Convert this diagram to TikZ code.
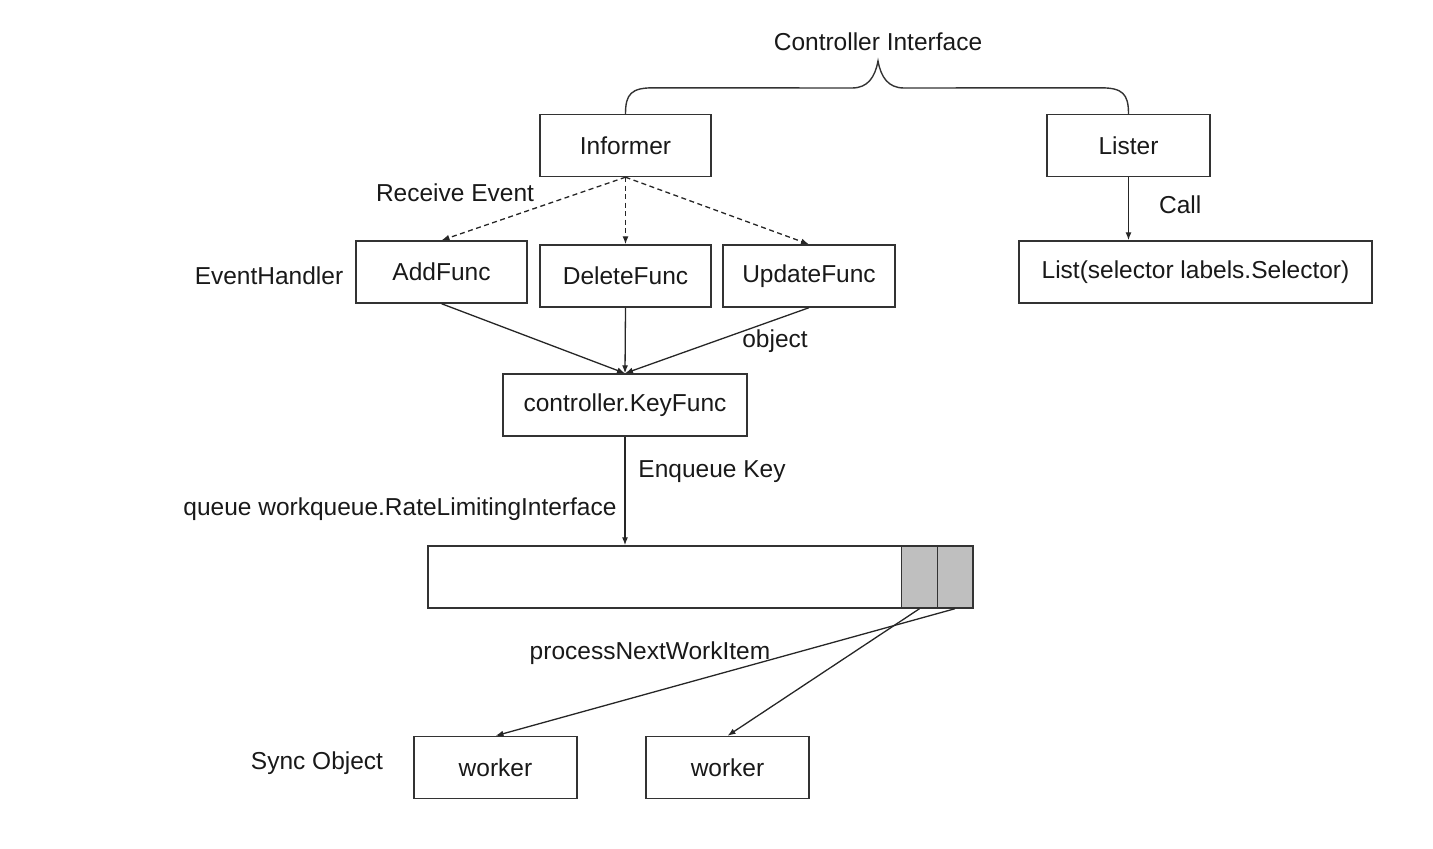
\documentclass[tikz,border=0pt]{standalone}
\usepackage{fontspec}
\setmainfont{Liberation Sans}
\usetikzlibrary{arrows.meta,calc}
\begin{document}
\begin{tikzpicture}[x=1pt,y=-1pt,
  every node/.style={font=\fontsize{24.5}{28}\selectfont, text=black!90},
  box/.style={draw=black!80, line width=1.4pt, inner sep=0pt, minimum height=62pt},
  cell/.style={draw=black!80, line width=1.4pt, inner sep=0pt, fill=black!25, minimum height=62pt, minimum width=35.5pt},
  lbl/.style={inner sep=0pt},
  conn/.style={draw=black!85, line width=1.3pt, -{Latex[length=8pt,width=6pt]}},
  dconn/.style={conn, dashed, dash pattern=on 5pt off 3.5pt}]
\useasboundingbox (0,0) rectangle (1433,849);
% top row
\node[box, minimum width=171pt] (inf) at (625.5,145.5) {Informer};
\node[box, minimum width=163pt] (lis) at (1128.5,145.5) {Lister};
\node[lbl] (ci) at (878,42) {Controller Interface};
% brace
\coordinate (tip) at (878,61);
\draw[draw=black!80, line width=1.4pt]
  (inf.north) .. controls ($(inf.north)+(0,-20)$) and ($(inf.north)+(6,-26)$) .. ($(inf.north)+(28,-26)$)
  -- ($(tip)+(-26,27)$) .. controls ($(tip)+(-10,27)$) and ($(tip)+(-3,16)$) .. (tip)
  .. controls ($(tip)+(3,16)$) and ($(tip)+(10,27)$) .. ($(tip)+(26,27)$)
  -- ($(lis.north)+(-28,-26)$) .. controls ($(lis.north)+(-6,-26)$) and ($(lis.north)+(0,-20)$) .. (lis.north);
% event handlers
\node[lbl] (re) at (455,193) {Receive Event};
\node[box, minimum width=171pt] (add) at (441.5,272) {AddFunc};
\node[box, minimum width=171pt] (del) at (625.5,276) {DeleteFunc};
\node[box, minimum width=172pt] (upd) at (809,276) {UpdateFunc};
\node[lbl] (eh) at (269,276) {EventHandler};
\draw[dconn] (inf.south) -- (add.north);
\draw[dconn] (inf.south) -- (del.north);
\draw[dconn] (inf.south) -- (upd.north);
% lister
\node[box, minimum width=353pt] (lst) at (1195.5,272) {List(selector labels.Selector)};
\draw[conn] (lis.south) -- (lis.south |- lst.north) node[lbl, pos=0.43, right=30pt] (call) {Call};
% key func
\node[box, minimum width=244pt] (kf) at (625,405) {controller.KeyFunc};
\draw[conn] (add.south) -- (kf.north);
\draw[conn] (del.south) -- (kf.north);
\draw[conn] (upd.south) -- (kf.north);
\node[lbl] (obj) at (775,341) {object};
% queue
\node[box, minimum width=545pt] (q) at (700.5,577) {};
\node[cell] (c1) at (919.5,577) {};
\node[cell] (c2) at (955,577) {};
\draw[conn] (kf.south) -- (kf.south |- q.north);
\node[lbl] (ek) at (712,472) {Enqueue Key};
\node[lbl] (qw) at (400,509) {queue workqueue.RateLimitingInterface};
% workers
\node[box, minimum width=163pt] (w1) at (495.5,767.5) {worker};
\node[box, minimum width=163pt] (w2) at (727.5,767.5) {worker};
\node[lbl] (so) at (317,763) {Sync Object};
\node[lbl] (pn) at (650,653) {processNextWorkItem};
\draw[conn] (c1.south) -- (w2.north);
\draw[conn] (c2.south) -- (w1.north);
\end{tikzpicture}
\end{document}
